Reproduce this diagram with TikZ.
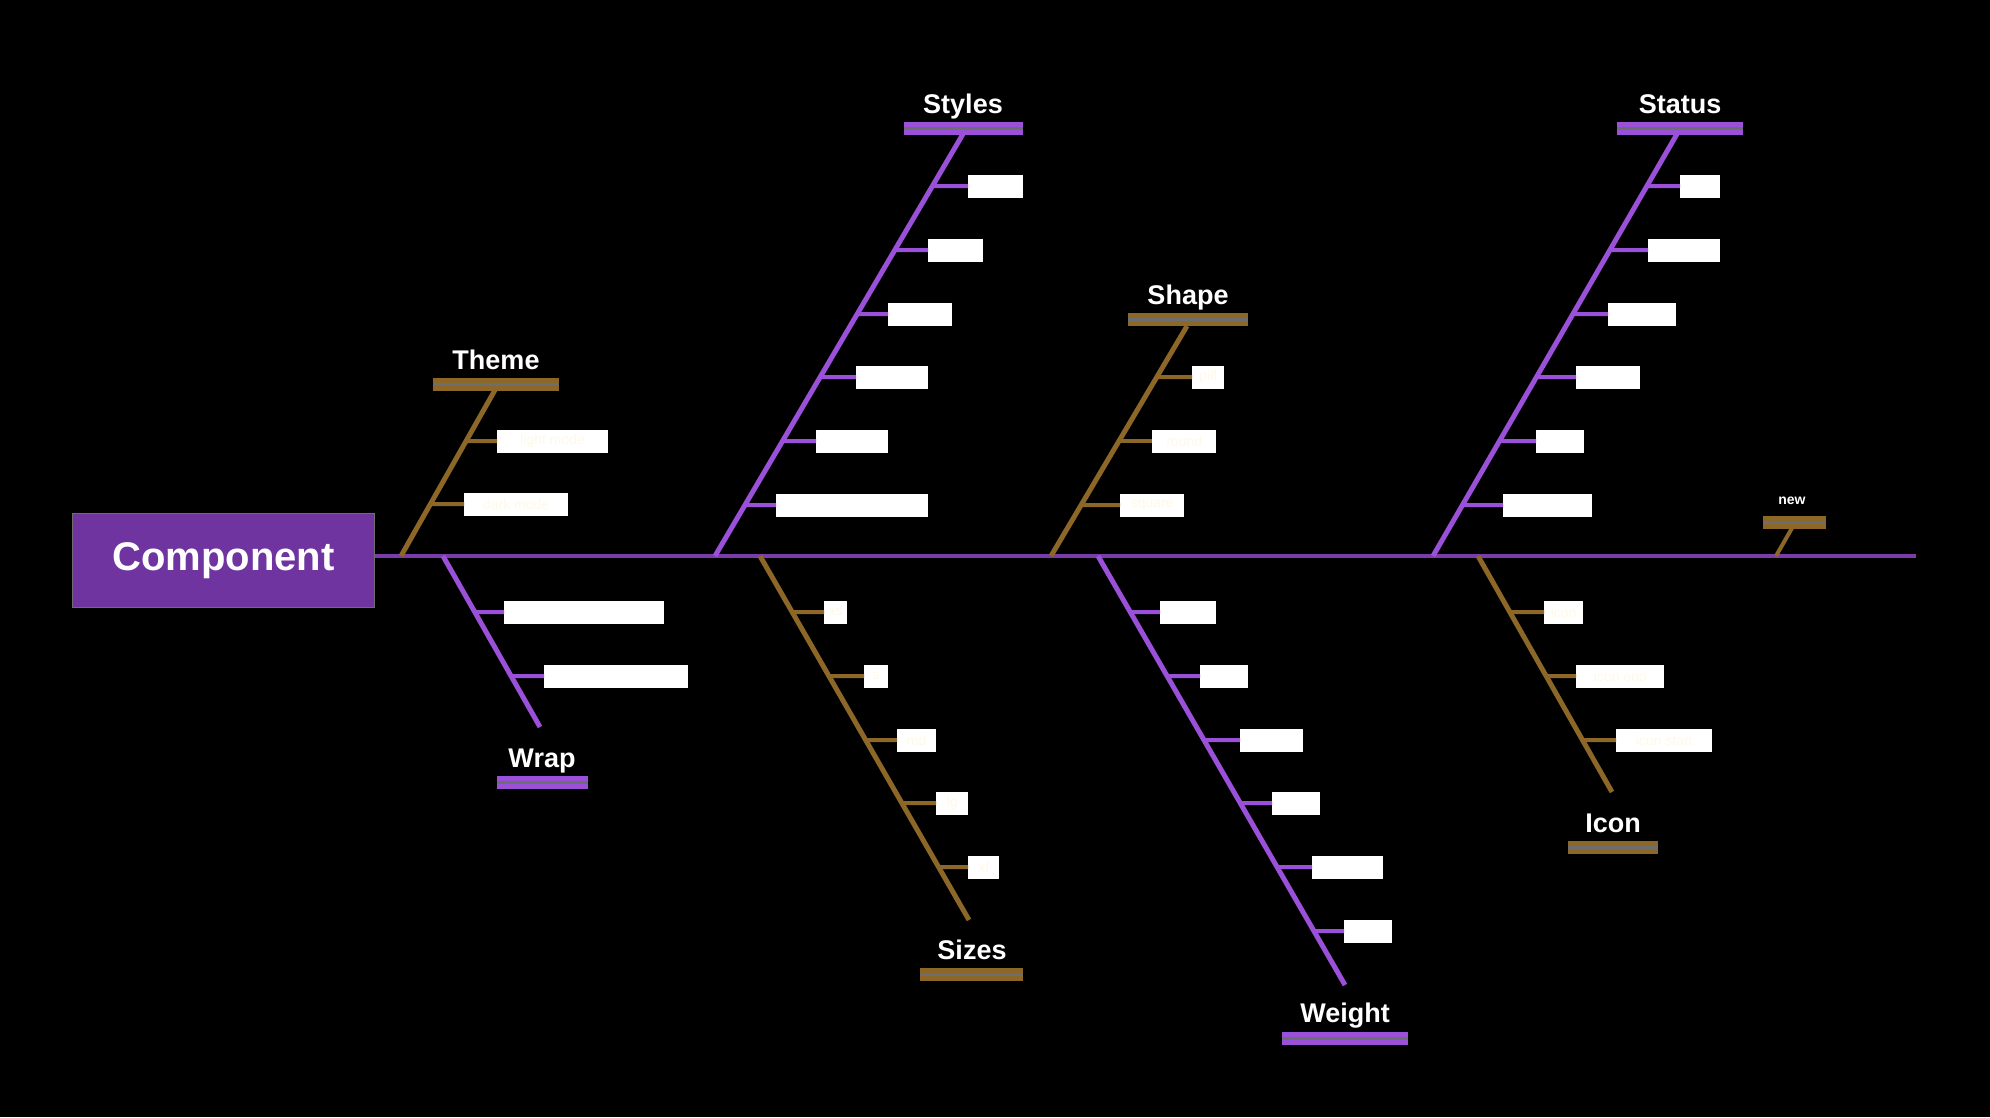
\documentclass[tikz,border=0pt]{standalone}
\usepackage{fontspec}
\setmainfont{Liberation Sans}
\usetikzlibrary{calc}
\definecolor{spinec}{HTML}{7A3CAA}
\definecolor{headc}{HTML}{7034A0}
\definecolor{purp}{HTML}{9A50D8}
\definecolor{brn}{HTML}{8C6728}
\definecolor{cream}{HTML}{FFF9E8}
\definecolor{gapc}{HTML}{6E6E6E}
\tikzset{
  lbl/.style={fill=white, inner sep=0pt, minimum height=23pt, anchor=west,
    font=\fontsize{14}{14}\selectfont, text=white},
  lblb/.style={lbl, text=cream},
  hdr/.style={font=\bfseries\fontsize{27}{27}\selectfont, text=white, inner sep=0pt, anchor=base},
  bonep/.style={purp, line width=5pt},
  boneb/.style={brn, line width=5pt},
  tickp/.style={purp, line width=4pt},
  tickb/.style={brn, line width=4pt},
  spine/.style={spinec, line width=4pt},
  headbox/.style={fill=headc, draw=gapc, line width=1pt, text=white, inner sep=0pt,
    font=\bfseries\fontsize{40}{40}\selectfont},
}
\newcommand\fbar[4]{%
  \fill[#4] (#1,#3) rectangle (#2,{#3+5});
  \fill[gapc] (#1,{#3+5}) rectangle (#2,{#3+8});
  \fill[#4] (#1,{#3+8}) rectangle (#2,{#3+13});}
\begin{document}
\begin{tikzpicture}[x=1pt,y=-1pt]
\fill[black] (0,0) rectangle (1990,1117);
\useasboundingbox (0,0) rectangle (1990,1117);

% head and spine
\node[headbox, minimum width=302pt, minimum height=94pt, anchor=north west] (head) at (72,513) {Component};
\coordinate (tail) at (1916,556);
\draw[spine] (head.east |- tail) -- (tail);

% ===== A: Theme (brown, up)
\coordinate (A0) at (401,556); \coordinate (A1) at (495,390);
\fbar{433}{559}{378}{brn}
\node[hdr] (Ah) at (496,369) {Theme};
\draw[boneb] (A0) -- (A1);
\node[lblb, minimum width=111pt] (a1) at (497,441) {light mode};
\node[lblb, minimum width=104pt] (a2) at (464,504) {dark mode};
\draw[tickb] ($(A0)!{115/166}!(A1)$) -- (a1.west);
\draw[tickb] ($(A0)!{52/166}!(A1)$) -- (a2.west);

% ===== B: Styles (purple, up)
\coordinate (B0) at (715,556); \coordinate (B1) at (963,134);
\fbar{904}{1023}{122}{purp}
\node[hdr] (Bh) at (963,113) {Styles};
\draw[bonep] (B0) -- (B1);
\node[lbl, minimum width=55pt] (b1) at (968,186) {filled};
\node[lbl, minimum width=55pt] (b2) at (928,250) {ghost};
\node[lbl, minimum width=64pt] (b3) at (888,314) {subtle};
\node[lbl, minimum width=72pt] (b4) at (856,377) {outline};
\node[lbl, minimum width=72pt] (b5) at (816,441) {tertiary};
\node[lbl, minimum width=152pt] (b6) at (776,505) {danger secondary};
\draw[tickp] ($(B0)!{370/422}!(B1)$) -- (b1.west);
\draw[tickp] ($(B0)!{306/422}!(B1)$) -- (b2.west);
\draw[tickp] ($(B0)!{242/422}!(B1)$) -- (b3.west);
\draw[tickp] ($(B0)!{179/422}!(B1)$) -- (b4.west);
\draw[tickp] ($(B0)!{115/422}!(B1)$) -- (b5.west);
\draw[tickp] ($(B0)!{51/422}!(B1)$) -- (b6.west);

% ===== C: Shape (brown, up)
\coordinate (C0) at (1051,556); \coordinate (C1) at (1187,326);
\fbar{1128}{1248}{313}{brn}
\node[hdr] (Ch) at (1188,304) {Shape};
\draw[boneb] (C0) -- (C1);
\node[lblb, minimum width=32pt] (c1) at (1192,377) {pill};
\node[lblb, minimum width=64pt] (c2) at (1152,441) {round};
\node[lblb, minimum width=64pt] (c3) at (1120,505) {square};
\draw[tickb] ($(C0)!{179/230}!(C1)$) -- (c1.west);
\draw[tickb] ($(C0)!{115/230}!(C1)$) -- (c2.west);
\draw[tickb] ($(C0)!{51/230}!(C1)$) -- (c3.west);

% ===== D: Status (purple, up)
\coordinate (D0) at (1433,556); \coordinate (D1) at (1677,134);
\fbar{1617}{1743}{122}{purp}
\node[hdr] (Dh) at (1680,113) {Status};
\draw[bonep] (D0) -- (D1);
\node[lbl, minimum width=40pt] (d1) at (1680,186) {hover};
\node[lbl, minimum width=72pt] (d2) at (1648,250) {pressed};
\node[lbl, minimum width=68pt] (d3) at (1608,314) {focused};
\node[lbl, minimum width=64pt] (d4) at (1576,377) {default};
\node[lbl, minimum width=48pt] (d5) at (1536,441) {active};
\node[lbl, minimum width=89pt] (d6) at (1503,505) {disabled};
\draw[tickp] ($(D0)!{370/422}!(D1)$) -- (d1.west);
\draw[tickp] ($(D0)!{306/422}!(D1)$) -- (d2.west);
\draw[tickp] ($(D0)!{242/422}!(D1)$) -- (d3.west);
\draw[tickp] ($(D0)!{179/422}!(D1)$) -- (d4.west);
\draw[tickp] ($(D0)!{115/422}!(D1)$) -- (d5.west);
\draw[tickp] ($(D0)!{51/422}!(D1)$) -- (d6.west);

% ===== E: small (brown, up)
\coordinate (E0) at (1776,556); \coordinate (E1) at (1792,528);
\fbar{1763}{1826}{516}{brn}
\node[hdr, font=\bfseries\fontsize{14}{14}\selectfont] (Eh) at (1792,504) {new};
\draw[boneb, line width=4pt] (E0) -- (E1);

% ===== F: Wrap (purple, down)
\coordinate (F0) at (443,556); \coordinate (F1) at (540,727);
\fbar{497}{588}{776}{purp}
\node[hdr] (Fh) at (542,767) {Wrap};
\draw[bonep] (F0) -- (F1);
\node[lbl, minimum width=160pt] (f1) at (504,612) {wrap on overflow};
\node[lbl, minimum width=144pt] (f2) at (544,676) {truncate text};
\draw[tickp] ($(F0)!{56/171}!(F1)$) -- (f1.west);
\draw[tickp] ($(F0)!{120/171}!(F1)$) -- (f2.west);

% ===== G: Sizes (brown, down)
\coordinate (G0) at (760,556); \coordinate (G1) at (969,920);
\fbar{920}{1023}{968}{brn}
\node[hdr] (Gh) at (972,959) {Sizes};
\draw[boneb] (G0) -- (G1);
\node[lblb, minimum width=23pt] (g1) at (824,612) {xs};
\node[lblb, minimum width=24pt] (g2) at (864,676) {s};
\node[lblb, minimum width=39pt] (g3) at (897,740) {md};
\node[lblb, minimum width=32pt] (g4) at (936,803) {lg};
\node[lblb, minimum width=31pt] (g5) at (968,867) {xl};
\draw[tickb] ($(G0)!{56/364}!(G1)$) -- (g1.west);
\draw[tickb] ($(G0)!{120/364}!(G1)$) -- (g2.west);
\draw[tickb] ($(G0)!{184/364}!(G1)$) -- (g3.west);
\draw[tickb] ($(G0)!{247/364}!(G1)$) -- (g4.west);
\draw[tickb] ($(G0)!{311/364}!(G1)$) -- (g5.west);

% ===== H: Weight (purple, down)
\coordinate (H0) at (1098,556); \coordinate (H1) at (1345,985);
\fbar{1282}{1408}{1032}{purp}
\node[hdr] (Hh) at (1345,1022) {Weight};
\draw[bonep] (H0) -- (H1);
\node[lbl, minimum width=56pt] (h1) at (1160,612) {light};
\node[lbl, minimum width=48pt] (h2) at (1200,676) {bold};
\node[lbl, minimum width=63pt] (h3) at (1240,740) {medium};
\node[lbl, minimum width=48pt] (h4) at (1272,803) {thin};
\node[lbl, minimum width=71pt] (h5) at (1312,867) {semibold};
\node[lbl, minimum width=48pt] (h6) at (1344,931) {black};
\draw[tickp] ($(H0)!{56/429}!(H1)$) -- (h1.west);
\draw[tickp] ($(H0)!{120/429}!(H1)$) -- (h2.west);
\draw[tickp] ($(H0)!{184/429}!(H1)$) -- (h3.west);
\draw[tickp] ($(H0)!{247/429}!(H1)$) -- (h4.west);
\draw[tickp] ($(H0)!{311/429}!(H1)$) -- (h5.west);
\draw[tickp] ($(H0)!{375/429}!(H1)$) -- (h6.west);

% ===== I: Icon (brown, down)
\coordinate (I0) at (1478,556); \coordinate (I1) at (1612,792);
\fbar{1568}{1658}{841}{brn}
\node[hdr] (Ih) at (1613,832) {Icon};
\draw[boneb] (I0) -- (I1);
\node[lblb, minimum width=39pt] (i1) at (1544,612) {icon};
\node[lblb, minimum width=88pt] (i2) at (1576,676) {icon end};
\node[lblb, minimum width=96pt] (i3) at (1616,740) {icon start};
\draw[tickb] ($(I0)!{56/236}!(I1)$) -- (i1.west);
\draw[tickb] ($(I0)!{120/236}!(I1)$) -- (i2.west);
\draw[tickb] ($(I0)!{184/236}!(I1)$) -- (i3.west);
\end{tikzpicture}
\end{document}
